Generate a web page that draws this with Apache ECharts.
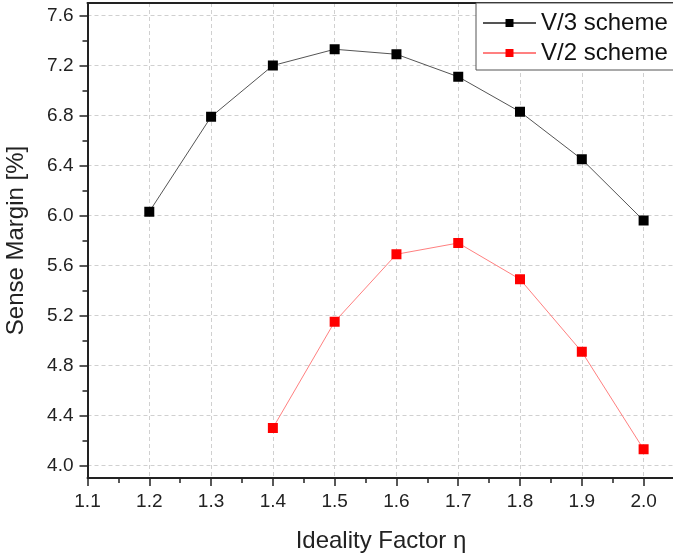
<!DOCTYPE html>
<html>
<head>
<meta charset="utf-8">
<script src="https://cdn.jsdelivr.net/npm/echarts@6/dist/echarts.min.js"></script>
<style>
html,body{margin:0;padding:0;background:#fff;}
#chart{width:673px;height:556px;}
</style>
</head>
<body>
<div id="chart"></div>
<script>
var etaV3 = [1.2, 1.3, 1.4, 1.5, 1.6, 1.7, 1.8, 1.9, 2.0];
var marginV3 = [6.03, 6.79, 7.20, 7.33, 7.29, 7.11, 6.83, 6.45, 5.96];
var etaV2 = [1.4, 1.5, 1.6, 1.7, 1.8, 1.9, 2.0];
var marginV2 = [4.30, 5.15, 5.69, 5.78, 5.49, 4.91, 4.13];
var yMajorTicks = [4.0, 4.4, 4.8, 5.2, 5.6, 6.0, 6.4, 6.8, 7.2, 7.6];
var yMinorTicks = [4.2, 4.6, 5.0, 5.4, 5.8, 6.2, 6.6, 7.0, 7.4];
var seriesNames = ['V/3 scheme', 'V/2 scheme'];

var FONT = 'Arial, "Liberation Sans", sans-serif';
function pairs(xs, ys) { return xs.map(function (x, i) { return [x, ys[i]]; }); }

var chart = echarts.init(document.getElementById('chart'), null, {renderer: 'canvas'});
chart.setOption({
  animation: false,
  backgroundColor: '#ffffff',
  textStyle: {fontFamily: FONT},
  grid: {left: 87.5, top: 3, width: 587, height: 475, containLabel: false, outerBoundsMode: 'none'},
  legend: {
    orient: 'vertical',
    left: 476, top: 3,
    padding: [7, 30, 4, 6],
    backgroundColor: '#fff',
    borderColor: '#555', borderWidth: 1,
    itemWidth: 53, itemHeight: 10, itemGap: 4,
    textStyle: {fontSize: 24, color: '#111', fontFamily: FONT, lineHeight: 26},
    data: seriesNames
  },
  xAxis: [{
    type: 'value', min: 1.1, max: 2.05, interval: 0.1,
    name: 'Ideality Factor η', nameLocation: 'middle', nameGap: 51,
    nameTextStyle: {fontSize: 24, color: '#222', fontFamily: FONT},
    axisLine: {show: true, onZero: false, lineStyle: {color: '#222', width: 2}},
    axisTick: {show: true, inside: false, length: 8, lineStyle: {color: '#222', width: 1.5}},
    minorTick: {show: true, splitNumber: 2, length: 5, lineStyle: {color: '#222', width: 1.5}},
    axisLabel: {fontSize: 19, color: '#222', margin: 14, showMaxLabel: false,
      formatter: function (v) { return v.toFixed(1); }},
    splitLine: {show: true, lineStyle: {color: '#d0d0d0', width: 1, type: [4, 3]}}
  }, {
    type: 'value', min: 1.1, max: 2.05, position: 'top',
    axisLine: {show: true, onZero: false, lineStyle: {color: '#222', width: 2}},
    axisTick: {show: false}, axisLabel: {show: false}, splitLine: {show: false}
  }],
  yAxis: [{
    type: 'value', min: 3.9, max: 7.7,
    name: 'Sense Margin [%]', nameLocation: 'middle', nameGap: 59,
    nameTextStyle: {fontSize: 24, color: '#222', fontFamily: FONT},
    axisLine: {show: true, onZero: false, lineStyle: {color: '#222', width: 2}},
    axisTick: {show: true, inside: false, length: 8, customValues: yMajorTicks, lineStyle: {color: '#222', width: 1.5}},
    axisLabel: {fontSize: 19, color: '#222', margin: 14, customValues: yMajorTicks,
      formatter: function (v) { return v.toFixed(1); }},
    splitLine: {show: true, lineStyle: {color: '#d0d0d0', width: 1, type: [4, 3]}}
  }, {
    type: 'value', min: 3.9, max: 7.7, position: 'left',
    axisLine: {show: false},
    axisTick: {show: true, inside: false, length: 5, customValues: yMinorTicks, lineStyle: {color: '#222', width: 1.5}},
    axisLabel: {show: false},
    splitLine: {show: false}
  }],
  series: [{
    name: seriesNames[0], type: 'line', xAxisIndex: 0, yAxisIndex: 0,
    data: pairs(etaV3, marginV3),
    symbol: 'rect', symbolSize: 10,
    itemStyle: {color: '#000'},
    lineStyle: {color: '#555', width: 1},
    z: 3
  }, {
    name: seriesNames[1], type: 'line', xAxisIndex: 0, yAxisIndex: 0,
    data: pairs(etaV2, marginV2),
    symbol: 'rect', symbolSize: 10,
    itemStyle: {color: '#ff0000'},
    lineStyle: {color: '#ff8080', width: 1},
    z: 3
  }]
});
</script>
</body>
</html>
